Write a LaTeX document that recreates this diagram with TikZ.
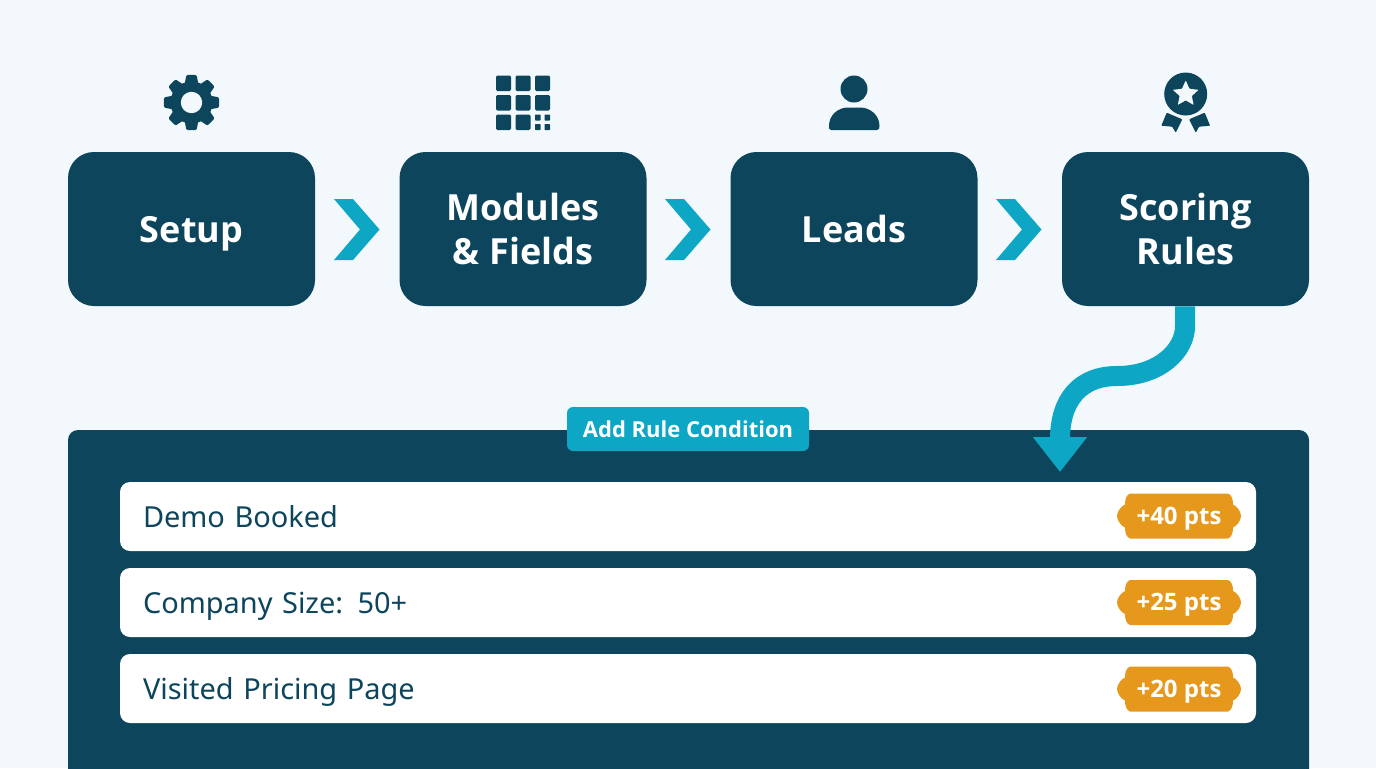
\documentclass[tikz,border=0pt]{standalone}
\usepackage{fontspec}
\setmainfont{Noto Sans}
\newfontfamily\headf{Open Sans}
\usetikzlibrary{arrows.meta,calc}
\definecolor{pagebg}{HTML}{F2F8FC}
\definecolor{navy}{HTML}{0C455C}
\definecolor{teal}{HTML}{0DA6C4}
\definecolor{amber}{HTML}{E6981C}
\tikzset{
  stepbox/.style={fill=navy,text=white,rounded corners=19.5pt,minimum width=185.25pt,minimum height=115.5pt,
    inner sep=0pt,align=center,font=\headf\fontsize{27pt}{32pt}\selectfont\bfseries},
  onelinetext/.style={text height=24pt,text depth=4pt},
  rowbox/.style={fill=white,rounded corners=7.5pt,minimum height=51.75pt,text width=817.5pt,inner xsep=17.25pt,inner ysep=0pt,
    align=left,text=navy,text height=20pt,text depth=3pt,font=\fontsize{21.7pt}{26pt}\selectfont},
  chev/.style={fill=teal},
  ico/.style={fill=navy},
  badgetext/.style={text=white,inner sep=0pt,text height=15pt,text depth=2.5pt,font=\headf\fontsize{18pt}{20pt}\selectfont\bfseries},
  badge/.pic={
    \fill[amber] (-49,-22.5) -- (49,-22.5)
      .. controls (53,-21) and (54,-16) .. (54,-11.5)
      .. controls (58,-10) and (62,-4) .. (62,0)
      .. controls (62,4) and (58,10) .. (54,11.5)
      .. controls (54,16) and (53,21) .. (49,22.5)
      -- (-49,22.5)
      .. controls (-53,21) and (-54,16) .. (-54,11.5)
      .. controls (-58,10) and (-62,4) .. (-62,0)
      .. controls (-62,-4) and (-58,-10) .. (-54,-11.5)
      .. controls (-54,-16) and (-53,-21) .. (-49,-22.5) -- cycle;
  }
}
\begin{document}
\begin{tikzpicture}[x=0.75pt,y=-0.75pt]
\fill[pagebg] (0,0) rectangle (1376,768);
\useasboundingbox (0,0) rectangle (1376,768);

% panel
\fill[navy,rounded corners=7.5pt] (68,790) -- (68,430) -- (1309,430) -- (1309,790) -- cycle;

% steps
\node[stepbox,onelinetext] (setup)   at (191.5,229) {Setup};
\node[stepbox] (modules) at (523,229) {Modules\\[1pt]\& Fields};
\node[stepbox,onelinetext] (leads)   at (854,229) {Leads};
\node[stepbox] (scoring) at (1185.5,229) {Scoring\\[1pt]Rules};

% chevrons
\foreach \dx in {0,331,662}{
  \fill[chev,shift={(\dx,0)}] (334,199) -- (353,199) -- (379.5,229.5) -- (353,260) -- (334,260) -- (360,229.5) -- cycle;
}

% gear
\begin{scope}[shift={(191.5,102.5)}]
  \fill[ico] (0,0) circle[radius=21];
  \foreach \a in {0,45,...,315}{
    \fill[ico,rotate=\a,rounded corners=1pt] (-7,-18) -- (-5,-27.7) -- (5,-27.7) -- (7,-18) -- cycle;
  }
  \fill[pagebg] (0,0) circle[radius=10.7];
\end{scope}

% grid
\begin{scope}[rounded corners=1pt]
  \foreach \cx/\cy in {496/75.5,515.5/75.5,535/75.5,496/95,515.5/95,535/95,496/114.5,515.5/114.5}{
    \fill[ico] (\cx,\cy) rectangle ++(15,15.5);
  }
\end{scope}
\begin{scope}[rounded corners=.4pt]
  \foreach \cx/\cy in {535/114.5,544.5/114.5,535/124,544.5/124}{
    \fill[ico] (\cx,\cy) rectangle ++(5.5,6);
  }
\end{scope}

% person
\fill[ico] (854,89) circle[radius=13.5];
\fill[ico] (831,130) .. controls (829,130) and (829,128) .. (829,126)
  .. controls (829,115) and (838,107.5) .. (848,107.5) -- (860,107.5)
  .. controls (870,107.5) and (879.5,115) .. (879.5,126)
  .. controls (879.5,128) and (879,130) .. (877,130) -- cycle;

% award
\begin{scope}[shift={(1185.7,94)}]
  \fill[ico] (0,0) circle[radius=21.5];
  \fill[pagebg,rounded corners=.5pt] (-90:13.5)
    -- (-54:6.4) -- (-18:13.5) -- (18:6.4) -- (54:13.5) -- (90:6.4)
    -- (126:13.5) -- (162:6.4) -- (198:13.5) -- (234:6.4) -- cycle;
  \foreach \s in {1,-1}{
    \begin{scope}[xscale=\s]
      \fill[ico,rounded corners=.6pt] (-19,18.7) -- (-3.4,25.3) -- (-10,38.7) -- (-13.4,32.7) -- (-24.4,31.7) -- cycle;
    \end{scope}
  }
\end{scope}

% rows
\node[rowbox] (r1) at (688,516.5) {Demo Booked};
\node[rowbox] (r2) at (688,602.5) {Company Size: 50+};
\node[rowbox] (r3) at (688,688.5) {Visited Pricing Page};

% badges
\pic at (1179,516) {badge};
\node[badgetext] (b1) at (1179,516) {+40 pts};
\pic at (1179,602.5) {badge};
\node[badgetext] (b2) at (1179,602.5) {+25 pts};
\pic at (1179,689) {badge};
\node[badgetext] (b3) at (1179,689) {+20 pts};

% add rule tag
\node[fill=teal,rounded corners=4.5pt,minimum width=181.5pt,minimum height=33pt,inner sep=0pt,text=white,
  font=\headf\fontsize{16.5pt}{20pt}\selectfont\bfseries] (tag) at (688,429) {Add Rule Condition};

% connector
\coordinate (target) at (1060,472);
\draw[teal,line width=15pt,{Butt Cap[]}-{Triangle[length=26.25pt,width=39pt]}]
  (scoring.south -| 1185,0) .. controls (1185,350) and (1160,376) .. (1117,376)
  .. controls (1080,376) and (1060,400) .. (target);
\end{tikzpicture}
\end{document}
